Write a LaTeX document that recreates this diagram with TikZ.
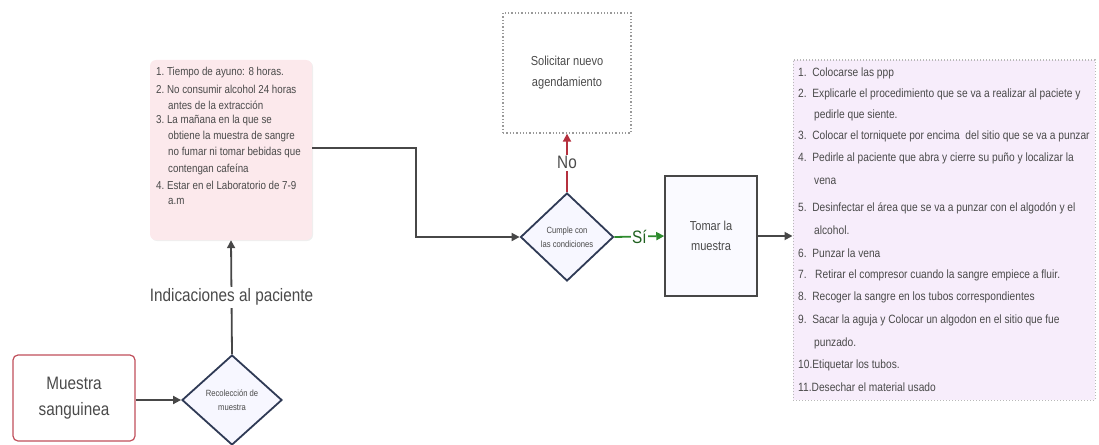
\documentclass[tikz,border=0pt]{standalone}
\usepackage{fontspec}
\setmainfont{Liberation Sans}
\newfontfamily\cond[FakeStretch=0.85]{Liberation Sans}
\usetikzlibrary{arrows.meta,shapes.geometric}
\definecolor{txt}{HTML}{4A4A4A}
\definecolor{edge}{HTML}{474747}
\definecolor{pinkfill}{HTML}{FCE9EC}
\definecolor{lilac}{HTML}{F7EDFB}
\definecolor{redline}{HTML}{B5303E}
\definecolor{greenline}{HTML}{2E8B2E}
\definecolor{navy}{HTML}{2F3A55}
\tikzset{
  conn/.style={draw=edge, line width=1.8pt, -{Triangle[length=8pt,width=8pt]}},
  lbl/.style={text=txt, font=\cond\fontsize{18}{20}\selectfont, fill=white, inner sep=2pt},
  dec/.style={diamond, draw=navy, line width=1.8pt, fill=blue!3, inner sep=0pt, align=center, text=txt, font=\cond\fontsize{9}{14}\selectfont},
  ptxt/.style={anchor=west, inner sep=0pt, text=txt, font=\cond\fontsize{11.5}{12}\selectfont},
  rtxt/.style={anchor=west, inner sep=0pt, text=txt, font=\cond\fontsize{12}{13}\selectfont}
}
\begin{document}
\begin{tikzpicture}[x=1pt,y=-1pt]
\useasboundingbox (0,0) rectangle (1099,444);
% boxes
\node[draw=redline!85, line width=1.2pt, rounded corners=5pt, minimum width=122pt, minimum height=86pt, align=center, text=txt, font=\cond\fontsize{18}{26}\selectfont] (muestra) at (74,398) {Muestra\\sanguinea};
\node[dec, minimum width=100pt, minimum height=90pt] (recol) at (232,400) {Recolección de\\muestra};
\node[fill=gray!25, rounded corners=6pt, minimum width=162pt, minimum height=180pt, opacity=0.5] (pshadow) at (232,151) {};
\node[fill=pinkfill, rounded corners=6pt, minimum width=162pt, minimum height=180pt] (pink) at (231,150) {};
\foreach \y/\x/\t [count=\i] in {
  73/156/1.\ Tiempo de ayuno: 8 horas.,
  89/156/2.\ No consumir alcohol 24 horas,
  105/168/antes de la extracción,
  121/156/3.\ La mañana en la que se,
  137/168/obtiene la muestra de sangre,
  153/168/no fumar ni tomar bebidas que,
  169/168/contengan cafeína,
  185/156/4.\ Estar en el Laboratorio de 7-9,
  201/168/a.m}
  \node[ptxt] (p\i) at (\x,\y) {\t};
\node[dec, minimum width=93pt, minimum height=88pt] (cumple) at (567,237) {Cumple con\\las condiciones};
\node[draw=gray!80, dotted, line width=1.3pt, minimum width=128pt, minimum height=120pt, align=center, text=txt, font=\cond\fontsize{13}{21}\selectfont] (solicitar) at (567,73) {Solicitar nuevo\\agendamiento};
\node[draw=edge, line width=1.5pt, fill=blue!2, minimum width=92pt, minimum height=120pt, align=center, text=txt, font=\cond\fontsize{13}{20}\selectfont] (tomar) at (711,236) {Tomar la\\muestra};
\node[draw=gray!55, dotted, line width=1pt, fill=lilac, minimum width=302pt, minimum height=340pt] (lista) at (944,230) {};
\foreach \y/\x/\t [count=\i] in {
  73/798/1.\ \ Colocarse las ppp,
  94/798/2.\ \ Explicarle el procedimiento que se va a realizar al paciete y,
  115/814/pedirle que siente.,
  136/798/3.\ \ Colocar el torniquete por encima\ \ del sitio que se va a punzar,
  158/798/4.\ \ Pedirle al paciente que abra y cierre su puño y localizar la,
  181/814/vena,
  208/798/5.\ \ Desinfectar el área que se va a punzar con el algodón y el,
  230/814/alcohol.,
  253/798/6.\ \ Punzar la vena,
  275/798/7.\ \ \ Retirar el compresor cuando la sangre empiece a fluir.,
  297/798/8.\ \ Recoger la sangre en los tubos correspondientes,
  320/798/9.\ \ Sacar la aguja y Colocar un algodon en el sitio que fue,
  343/814/punzado.,
  365/798/10.Etiquetar los tubos.,
  387/798/11.Desechar el material usado}
  \node[rtxt] (r\i) at (\x,\y) {\t};
% connectors
\draw[conn] (muestra.east |- recol.west) -- (recol.west);
\draw[conn] (recol.north) -- (pink.south) node[lbl, midway] (ind) {Indicaciones al paciente};
\coordinate (b1) at (416,148);
\coordinate (b2) at (416,237);
\draw[conn] (pink.east |- b1) -- (b1) -- (b2) -- (cumple.west);
\draw[draw=redline, line width=1.8pt, -{Triangle[length=8pt,width=8pt]}] (cumple.north) -- (solicitar.south) node[lbl, midway, text=txt] (no) {No};
\draw[draw=greenline, line width=1.8pt, -{Triangle[length=8pt,width=8pt]}] (cumple.east) -- (tomar.west) node[lbl, midway, text=greenline!70!black, inner sep=1pt] (si) {Sí};
\draw[conn] (tomar.east) -- (tomar.east -| lista.west);
\end{tikzpicture}
\end{document}
